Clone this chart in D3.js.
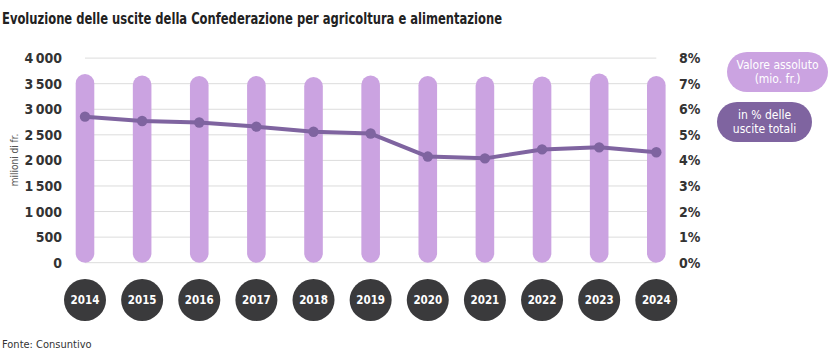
<!DOCTYPE html>
<html>
<head>
<meta charset="UTF-8">
<title>Uscite agricoltura</title>
<script src="https://cdn.jsdelivr.net/npm/d3@7"></script>
<style>
  body { margin: 0; background: #fff; }
  text { font-family: "DejaVu Sans Condensed", "DejaVu Sans", sans-serif; font-stretch: condensed; }
</style>
</head>
<body>
<div id="chart"></div>
<script>
// data
var years = ["2014", "2015", "2016", "2017", "2018", "2019", "2020", "2021", "2022", "2023", "2024"];
var valori = [3690, 3660, 3650, 3650, 3630, 3660, 3650, 3640, 3640, 3700, 3650]; // mio. fr.
var quote = [5.71, 5.54, 5.48, 5.32, 5.12, 5.05, 4.15, 4.08, 4.43, 4.51, 4.32];   // % uscite totali
var leftTicks = [0, 500, 1000, 1500, 2000, 2500, 3000, 3500, 4000];
var rightTicks = [0, 1, 2, 3, 4, 5, 6, 7, 8];

var width = 836, height = 363;
var barColor = "#cba3e1", lineColor = "#7f64a0", dark = "#3a3a3c";

var svg = d3.select("#chart").append("svg")
    .attr("width", width)
    .attr("height", height);

// scales
var x = d3.scalePoint().domain(years).range([85, 656.3]);
var yL = d3.scaleLinear().domain([0, 4000]).range([262.7, 58.1]);
var yR = d3.scaleLinear().domain([0, 8]).range([262.7, 58.1]);

// title (reference font is condensed, squeeze to its width)
svg.append("text")
    .attr("x", 2).attr("y", 24)
    .attr("font-size", 16).attr("font-weight", "bold")
    .attr("fill", "#222")
    .attr("textLength", 500)
    .attr("lengthAdjust", "spacingAndGlyphs")
    .text("Evoluzione delle uscite della Confederazione per agricoltura e alimentazione");

// grid
svg.append("g").selectAll("line")
    .data(leftTicks)
    .enter().append("line")
    .attr("x1", x(years[0])).attr("x2", x(years[years.length - 1]))
    .attr("y1", function(d) { return yL(d); })
    .attr("y2", function(d) { return yL(d); })
    .attr("stroke", "#dcdcdc").attr("stroke-width", 1);

// left axis
var axL = svg.append("g")
    .attr("transform", "translate(62,0)")
    .call(d3.axisLeft(yL).tickValues(leftTicks).tickSize(0).tickPadding(0)
        .tickFormat(function(d) { return d3.format(",")(d).replace(",", "\u2009"); }));
axL.select(".domain").remove();
axL.selectAll("text")
    .attr("font-size", 14).attr("font-weight", "bold")
    .attr("fill", "#333")
    .style("font-family", "'DejaVu Sans Condensed', 'DejaVu Sans', sans-serif");

// right axis
var axR = svg.append("g")
    .attr("transform", "translate(679,0)")
    .call(d3.axisRight(yR).tickValues(rightTicks).tickSize(0).tickPadding(0)
        .tickFormat(function(d) { return d + "%"; }));
axR.select(".domain").remove();
axR.selectAll("text")
    .attr("font-size", 14).attr("font-weight", "bold")
    .attr("fill", "#333")
    .style("font-family", "'DejaVu Sans Condensed', 'DejaVu Sans', sans-serif");

// y title
svg.append("text")
    .attr("transform", "translate(18,160) rotate(-90)")
    .attr("text-anchor", "middle")
    .attr("font-size", 10).attr("fill", "#555")
    .text("milioni di fr.");

// bars (capsules)
var barW = 18.6;
svg.append("g").selectAll("rect")
    .data(valori)
    .enter().append("rect")
    .attr("x", function(d, i) { return x(years[i]) - barW / 2; })
    .attr("y", function(d) { return yL(d); })
    .attr("width", barW)
    .attr("height", function(d) { return yL(0) - yL(d); })
    .attr("rx", barW / 2)
    .attr("fill", barColor);

// line
var line = d3.line()
    .x(function(d, i) { return x(years[i]); })
    .y(function(d) { return yR(d); });

svg.append("path")
    .datum(quote)
    .attr("d", line)
    .attr("fill", "none")
    .attr("stroke", lineColor)
    .attr("stroke-width", 4)
    .attr("stroke-linejoin", "round");

svg.append("g").selectAll("circle")
    .data(quote)
    .enter().append("circle")
    .attr("cx", function(d, i) { return x(years[i]); })
    .attr("cy", function(d) { return yR(d); })
    .attr("r", 5.2)
    .attr("fill", lineColor);

// year badges
var badges = svg.append("g").selectAll("g")
    .data(years)
    .enter().append("g")
    .attr("transform", function(d) { return "translate(" + x(d) + ",300)"; });
badges.append("circle").attr("r", 21).attr("fill", dark);
badges.append("text")
    .attr("text-anchor", "middle").attr("dy", "0.35em")
    .attr("font-size", 11.5).attr("font-weight", "bold")
    .attr("fill", "#fff")
    .text(function(d) { return d; });

// legend
var legend = [
    { lines: ["Valore assoluto", "(mio. fr.)"], color: barColor, x: 727, y: 52, w: 101 },
    { lines: ["in % delle", "uscite totali"], color: lineColor, x: 717, y: 102, w: 95 }
];
var lg = svg.append("g").selectAll("g")
    .data(legend)
    .enter().append("g")
    .attr("transform", function(d) { return "translate(" + d.x + "," + d.y + ")"; });
lg.append("rect")
    .attr("width", function(d) { return d.w; })
    .attr("height", 40)
    .attr("rx", 20)
    .attr("fill", function(d) { return d.color; });
lg.each(function(d) {
    d.lines.forEach(function(l, k) {
        d3.select(this).append("text")
            .attr("text-anchor", "middle")
            .attr("font-size", 12).attr("fill", "#fff")
            .attr("x", d.w / 2).attr("y", 17 + k * 14)
            .text(l);
    }, this);
});

// source
svg.append("text")
    .attr("x", 2).attr("y", 348)
    .attr("font-size", 11).attr("fill", "#333")
    .text("Fonte: Consuntivo");
</script>
</body>
</html>
